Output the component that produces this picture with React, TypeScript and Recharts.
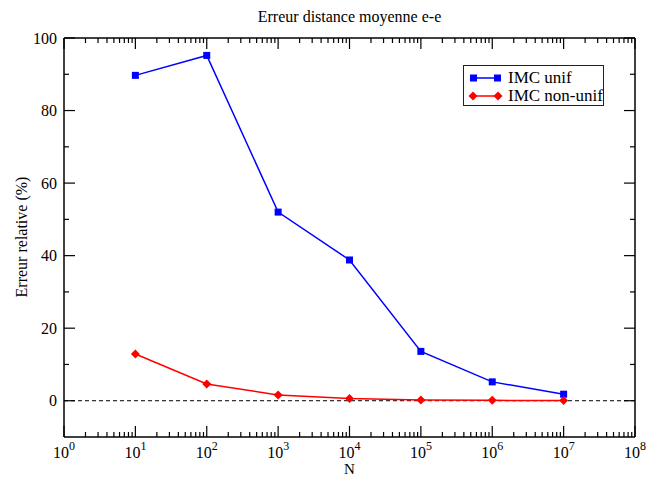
import React from "react"
import { LineChart, Line, XAxis, YAxis, ReferenceLine, Legend } from "recharts"

// N (nombre d'échantillons) et erreurs relatives (%)
const nValues = [1e1, 1e2, 1e3, 1e4, 1e5, 1e6, 1e7]
const unifErr = [89.7, 95.2, 52.0, 38.8, 13.6, 5.2, 1.8]
const nonUnifErr = [12.9, 4.6, 1.6, 0.6, 0.2, 0.1, 0.05]

const yTicks = [0, 10, 20, 30, 40, 50, 60, 70, 80, 90, 100]
const yLabelTicks = [0, 20, 40, 60, 80, 100]
const decades = [0, 1, 2, 3, 4, 5, 6, 7]
const mantissas = [1, 2, 3, 4, 5, 6, 7, 8, 9]

const xTicks = [...decades.flatMap(d => mantissas.map(m => m * 10 ** d)), 1e8]

const seriesNames = ["IMC unif", "IMC non-unif"]
const seriesColors = ["#0000ff", "#ff0000"]

const data = nValues.map((n, i) => ({ n, unif: unifErr[i], nonUnif: nonUnifErr[i] }))

const FONT = "'Liberation Serif', 'Times New Roman', serif"

const isMajorX = (v: number) => {
  const e = Math.log10(v)
  return Math.abs(e - Math.round(e)) < 1e-9
}

const XTick = (props: any) => {
  const { x, y, payload, top } = props
  const v = payload.value
  const major = isMajorX(v)
  const len = major ? 11 : 5
  const dir = top ? 1 : -1
  return (
    <g>
      <line x1={x} y1={y} x2={x} y2={y + dir * len} stroke="#000" strokeWidth={1.2} />
      {!top && major && (
        <text x={x} y={y + 21} textAnchor="middle" fontFamily={FONT} fontSize={16} fill="#000">
          10<tspan dy={-8} fontSize={12}>{Math.round(Math.log10(v))}</tspan>
        </text>
      )}
    </g>
  )
}

const YTick = (props: any) => {
  const { x, y, payload, right } = props
  const v = payload.value
  const major = yLabelTicks.includes(v)
  const len = major ? 11 : 5
  const dir = right ? -1 : 1
  return (
    <g>
      <line x1={x} y1={y} x2={x + dir * len} y2={y} stroke="#000" strokeWidth={1.2} />
      {!right && major && (
        <text x={x - 7} y={y} dy="0.35em" textAnchor="end" fontFamily={FONT} fontSize={16} fill="#000">
          {v}
        </text>
      )}
    </g>
  )
}

const SquareDot = (props: any) => {
  const { cx, cy, index } = props
  if (cx == null || cy == null) return <g key={index} />
  return <rect key={index} x={cx - 3.5} y={cy - 3.5} width={7} height={7} fill={seriesColors[0]} />
}

const DiamondDot = (props: any) => {
  const { cx, cy, index } = props
  if (cx == null || cy == null) return <g key={index} />
  return (
    <polygon
      key={index}
      points={`${cx},${cy - 4.5} ${cx + 4.5},${cy} ${cx},${cy + 4.5} ${cx - 4.5},${cy}`}
      fill={seriesColors[1]}
    />
  )
}

const LegendBox = () => (
  <div
    style={{
      width: 139,
      height: 39,
      border: "1px solid #222",
      background: "#fff",
      fontFamily: FONT,
      fontSize: 17,
      color: "#000",
      boxSizing: "content-box",
    }}
  >
    {seriesNames.map((name, i) => (
      <div key={name} style={{ display: "flex", alignItems: "center", height: 19, marginTop: i === 0 ? 2 : -1 }}>
        <svg width={44} height={12} style={{ flex: "none" }}>
          <line x1={9} y1={6} x2={34} y2={6} stroke={seriesColors[i]} strokeWidth={1.5} />
          {i === 0 ? (
            <>
              <rect x={6} y={2.5} width={7} height={7} fill={seriesColors[0]} />
              <rect x={30} y={2.5} width={7} height={7} fill={seriesColors[0]} />
            </>
          ) : (
            <>
              <polygon points="9,1.5 13.5,6 9,10.5 4.5,6" fill={seriesColors[1]} />
              <polygon points="34,1.5 38.5,6 34,10.5 29.5,6" fill={seriesColors[1]} />
            </>
          )}
        </svg>
        <span style={{ lineHeight: "19px" }}>{name}</span>
      </div>
    ))}
  </div>
)

export default function App() {
  return (
    <div style={{ position: "absolute", left: 0, top: 0, width: 646, height: 477, background: "#fff" }}>
      <div
        style={{
          position: "absolute",
          left: 64,
          width: 571,
          top: 7,
          textAlign: "center",
          fontFamily: FONT,
          fontSize: 16,
          lineHeight: "20px",
        }}
      >
        Erreur distance moyenne e-e
      </div>
      <div
        style={{
          position: "absolute",
          left: 22,
          top: 237,
          transform: "translate(-50%, -50%) rotate(-90deg)",
          whiteSpace: "nowrap",
          fontFamily: FONT,
          fontSize: 16,
          lineHeight: "18px",
        }}
      >
        Erreur relative (%)
      </div>
      <div
        style={{
          position: "absolute",
          left: 64,
          width: 571,
          top: 463,
          textAlign: "center",
          fontFamily: FONT,
          fontSize: 15,
          lineHeight: "13px",
        }}
      >
        N
      </div>
      <LineChart width={646} height={477} data={data} margin={{ top: 0, right: 0, bottom: 0, left: 0 }}>
        <XAxis
          xAxisId="bottom"
          dataKey="n"
          type="number"
          scale="log"
          domain={[1, 1e8]}
          ticks={xTicks}
          interval={0}
          allowDataOverflow
          height={40}
          tickSize={0}
          tickMargin={0}
          tickLine={false}
          axisLine={{ stroke: "#000", strokeWidth: 1.5 }}
          tick={(p: any) => <XTick {...p} />}
        />
        <XAxis
          xAxisId="top"
          orientation="top"
          dataKey="n"
          type="number"
          scale="log"
          domain={[1, 1e8]}
          ticks={xTicks}
          interval={0}
          allowDataOverflow
          height={38}
          tickSize={0}
          tickMargin={0}
          tickLine={false}
          axisLine={{ stroke: "#000", strokeWidth: 1.5 }}
          tick={(p: any) => <XTick {...p} top />}
        />
        <YAxis
          yAxisId="left"
          type="number"
          domain={[-10, 100]}
          ticks={yTicks}
          interval={0}
          allowDataOverflow
          width={64}
          tickSize={0}
          tickMargin={0}
          tickLine={false}
          axisLine={{ stroke: "#000", strokeWidth: 1.5 }}
          tick={(p: any) => <YTick {...p} />}
        />
        <YAxis
          yAxisId="right"
          orientation="right"
          type="number"
          domain={[-10, 100]}
          ticks={yTicks}
          interval={0}
          allowDataOverflow
          width={11}
          tickSize={0}
          tickMargin={0}
          tickLine={false}
          axisLine={{ stroke: "#000", strokeWidth: 1.5 }}
          tick={(p: any) => <YTick {...p} right />}
        />
        <ReferenceLine
          xAxisId="bottom"
          yAxisId="left"
          y={0}
          stroke="#000"
          strokeWidth={1}
          strokeDasharray="4 3"
        />
        <Line
          xAxisId="bottom"
          yAxisId="left"
          dataKey="unif"
          name={seriesNames[0]}
          stroke={seriesColors[0]}
          strokeWidth={1.5}
          dot={(p: any) => <SquareDot key={p.index} {...p} />}
          activeDot={false}
          isAnimationActive={false}
        />
        <Line
          xAxisId="bottom"
          yAxisId="left"
          dataKey="nonUnif"
          name={seriesNames[1]}
          stroke={seriesColors[1]}
          strokeWidth={1.5}
          dot={(p: any) => <DiamondDot key={p.index} {...p} />}
          activeDot={false}
          isAnimationActive={false}
        />
        <Legend
          layout="horizontal"
          verticalAlign="middle"
          align="center"
          content={() => <LegendBox />}
          wrapperStyle={{ left: 463, top: 65, width: 141, right: "auto", bottom: "auto" }}
        />
      </LineChart>
    </div>
  )
}
